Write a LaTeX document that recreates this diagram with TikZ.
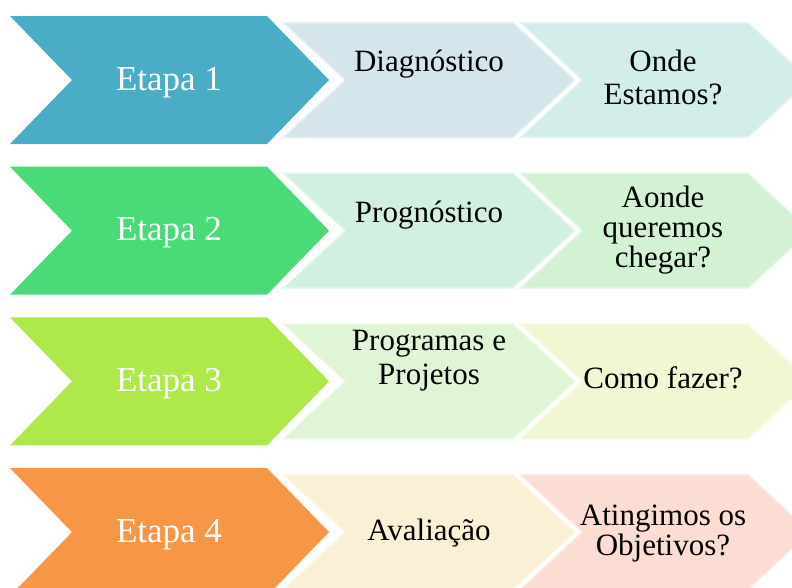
\documentclass[tikz,border=0pt]{standalone}
\usepackage{fontspec}
\setmainfont{Liberation Serif}
\usetikzlibrary{calc}

\definecolor{Cbig1}{HTML}{4BACC6}
\definecolor{Cmid1}{HTML}{D5E5EC}
\definecolor{Cend1}{HTML}{D3EDEA}
\definecolor{Cbig2}{HTML}{4ADA78}
\definecolor{Cmid2}{HTML}{D2F0DF}
\definecolor{Cend2}{HTML}{D3F2D4}
\definecolor{Cbig3}{HTML}{AEE84B}
\definecolor{Cmid3}{HTML}{E0F5D5}
\definecolor{Cend3}{HTML}{F0F8D3}
\definecolor{Cbig4}{HTML}{F79646}
\definecolor{Cmid4}{HTML}{FAF0D5}
\definecolor{Cend4}{HTML}{FBDDD4}

\tikzset{%
    Dbig/.style={fill=#1},
    Dlight/.style={fill=#1, draw=#1!55!white, line width=1.5pt, line join=miter},
    Dstage/.style={text=white, anchor=base, font=\fontsize{35}{36}\selectfont},
    Dtext/.style={text=black, align=center, font=\fontsize{31}{30}\selectfont},
    Dwide/.style={font=\fontsize{31}{33.5}\selectfont}
}
\newcommand{\stagechev}[6]{
    % one chevron: left x, middle y, length to tip, half height, depth, style
    \path [#6]
        (#1,{#2-#4}) -- ({#1+#3-#5},{#2-#4}) -- ({#1+#3},#2)
        -- ({#1+#3-#5},{#2+#4}) -- (#1,{#2+#4}) -- ({#1+#5},#2) -- cycle;
}

\begin{document}
\begin{tikzpicture}[x=1pt,y=-1pt]
    \useasboundingbox (0,0) rectangle (792,587);

    % rows of chevrons ("Etapa" plus two light ones)
    \foreach \i in {1,2,3,4} {
        \pgfmathsetmacro{\ym}{80+150.7*(\i-1)}
        \stagechev{10}{\ym}{319}{64}{62}{Dbig=Cbig\i}
        \stagechev{283}{\ym}{292}{57.5}{62}{Dlight=Cmid\i}
        \stagechev{520}{\ym}{290}{57.5}{62}{Dlight=Cend\i}
        \node [Dstage] (etapa\i) at (169,\ym+10) {Etapa \i};
    }

    % texts of the second column
    \node [Dtext, anchor=base] (diag) at (429,71) {Diagnóstico};
    \node [Dtext, anchor=base] (progn) at (429,222) {Prognóstico};
    \node [Dtext, Dwide] (progr) at (429,360.5) {Programas e\\Projetos};
    \node [Dtext, anchor=base] (aval) at (429,540) {Avaliação};

    % texts of the third column
    \node [Dtext, Dwide] (onde) at (663,77.5) {Onde\\Estamos?};
    \node [Dtext] (aonde) at (663,230) {Aonde\\queremos\\chegar?};
    \node [Dtext, anchor=base] (como) at (663,388) {Como fazer?};
    \node [Dtext] (ating) at (663,534) {Atingimos os\\Objetivos?};
\end{tikzpicture}
\end{document}
